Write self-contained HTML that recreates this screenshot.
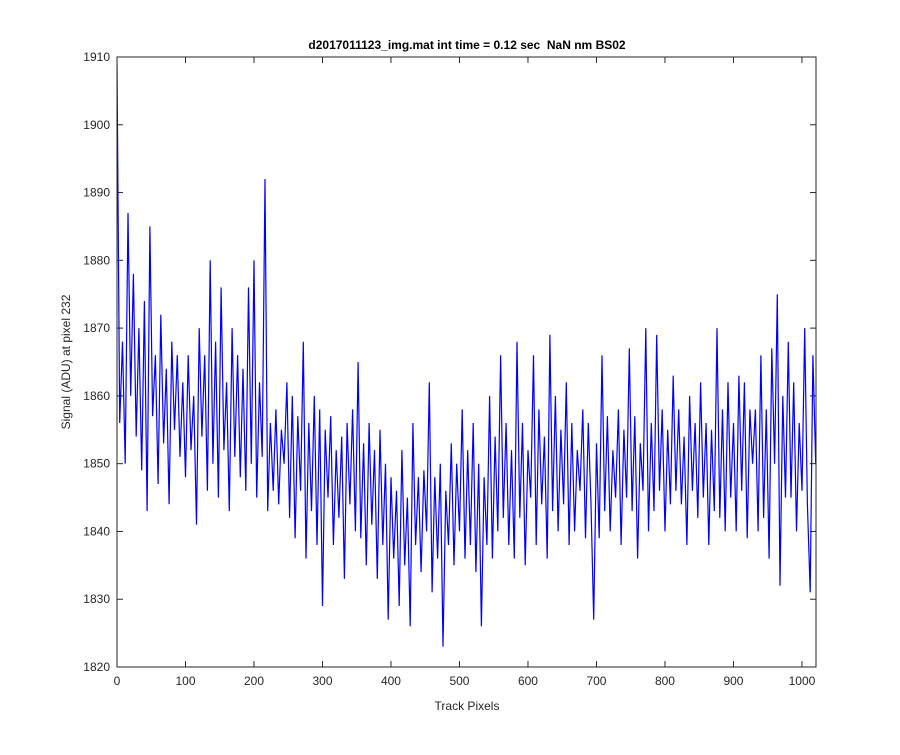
<!DOCTYPE html>
<html><head><meta charset="utf-8"><style>
body{margin:0;background:#fff;}
svg text{font-family:"Liberation Sans",Arial,sans-serif;}
</style></head><body>
<svg width="900" height="750" xmlns="http://www.w3.org/2000/svg">
<rect width="900" height="750" fill="#fff"/>
<text x="467" y="49" font-size="12" font-weight="bold" text-anchor="middle" fill="#000" style="white-space:pre" xml:space="preserve">d2017011123_img.mat int time = 0.12 sec  NaN nm BS02</text>
<text x="467" y="710" font-size="12" text-anchor="middle" fill="#262626">Track Pixels</text>
<text transform="translate(70,362) rotate(-90)" font-size="12" text-anchor="middle" fill="#262626">Signal (ADU) at pixel 232</text>
<g id="ticks"></g>
<clipPath id="clip"><rect x="117" y="57" width="700" height="610"/></clipPath>
<path id="series" fill="none" stroke="#0000ff" stroke-width="1.2" clip-path="url(#clip)"/>
<rect x="117" y="57" width="699" height="610" fill="none" stroke="#262626" stroke-width="1"/>
</svg>
<script>
const xTicks=[0,100,200,300,400,500,600,700,800,900,1000];
const yTicks=[1820,1830,1840,1850,1860,1870,1880,1890,1900,1910];
const sampleStep=4;
const signal=[1909,1856,1868,1850,1887,1860,1878,1854,1870,1849,1874,1843,1885,1857,1866,1847,1872,1853,1864,1844,1868,1855,1866,1851,1862,1848,1866,1852,1860,1841,1870,1854,1866,1846,1880,1850,1868,1845,1876,1852,1862,1843,1870,1851,1866,1848,1864,1846,1876,1850,1880,1845,1862,1851,1892,1843,1856,1846,1858,1844,1855,1850,1862,1842,1860,1839,1857,1846,1868,1836,1856,1843,1860,1838,1858,1829,1855,1845,1857,1838,1852,1842,1854,1833,1856,1844,1858,1840,1865,1839,1853,1835,1856,1841,1852,1833,1855,1838,1850,1827,1848,1836,1846,1829,1852,1835,1845,1826,1856,1838,1848,1834,1849,1840,1862,1831,1848,1836,1850,1823,1846,1838,1853,1835,1850,1840,1858,1836,1852,1838,1856,1834,1850,1826,1848,1838,1860,1836,1854,1840,1866,1842,1856,1838,1852,1836,1868,1842,1856,1835,1852,1845,1866,1838,1858,1844,1854,1836,1869,1843,1860,1840,1855,1844,1862,1838,1856,1840,1852,1846,1858,1839,1856,1844,1827,1853,1839,1866,1843,1857,1840,1852,1845,1858,1838,1855,1845,1867,1843,1857,1836,1853,1846,1870,1840,1856,1843,1869,1846,1858,1840,1855,1844,1863,1846,1858,1844,1854,1838,1860,1846,1856,1842,1862,1845,1856,1838,1855,1843,1870,1842,1858,1840,1862,1845,1856,1840,1863,1846,1862,1839,1858,1850,1858,1840,1866,1842,1858,1836,1867,1850,1875,1832,1860,1845,1868,1845,1862,1840,1856,1846,1870,1844,1831,1866,1850];
const X0=117,X1=816,Y0=667,Y1=57,xMin=0,xMax=1020.5,yMin=1820,yMax=1910;
function sx(v){return X0+(v-xMin)/(xMax-xMin)*(X1-X0);}
function sy(v){return Y0-(v-yMin)/(yMax-yMin)*(Y0-Y1);}
const NS="http://www.w3.org/2000/svg";
const g=document.getElementById('ticks');
function mk(tag,attrs){const e=document.createElementNS(NS,tag);for(const k in attrs)e.setAttribute(k,attrs[k]);g.appendChild(e);return e;}
xTicks.forEach(t=>{const x=sx(t);
 const a=mk('line',{x1:x,x2:x,y1:Y0,y2:Y0-6,stroke:'#262626'});
 
 
 mk('line',{x1:x,x2:x,y1:Y1,y2:Y1+6,stroke:'#262626'});
 const l=mk('text',{x:x,y:Y0+18,'font-size':12,'text-anchor':'middle',fill:'#262626'});l.textContent=t;
 
 
});
yTicks.forEach(t=>{const y=sy(t);
 const a=mk('line',{x1:X0,x2:X0+6,y1:y,y2:y,stroke:'#262626'});
 
 
 mk('line',{x1:X1,x2:X1-6,y1:y,y2:y,stroke:'#262626'});
 const l=mk('text',{x:X0-7,y:y+4,'font-size':12,'text-anchor':'end',fill:'#262626'});l.textContent=t;
 
 
});
let d='';signal.forEach((v,i)=>{d+=(i?'L':'M')+sx(i*sampleStep).toFixed(1)+','+sy(v).toFixed(1);});
document.getElementById('series').setAttribute('d',d);
</script>
</body></html>
